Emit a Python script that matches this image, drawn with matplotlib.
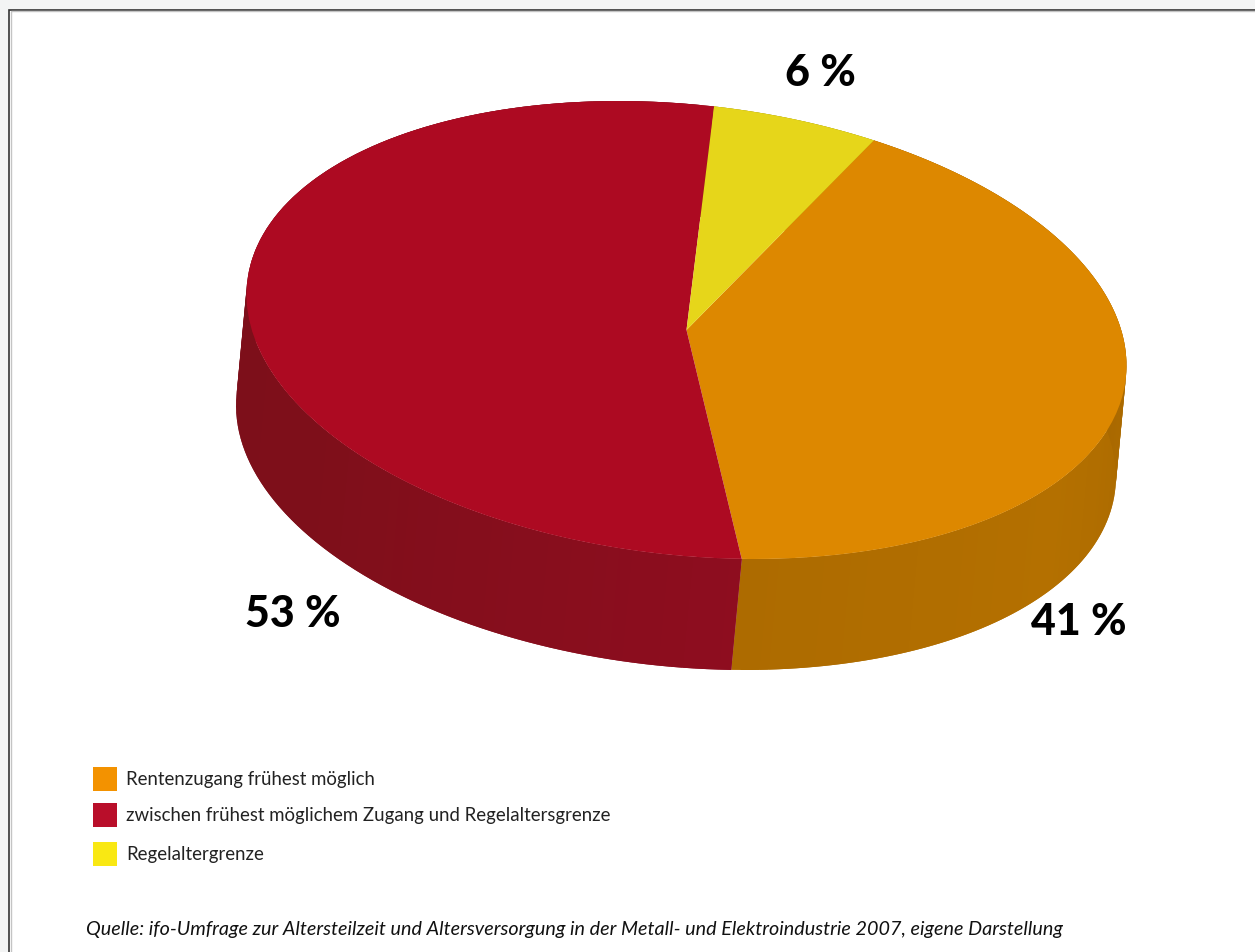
import numpy as np
import matplotlib
matplotlib.use("Agg")
import matplotlib.pyplot as plt
from matplotlib.colors import to_rgb
from matplotlib.patches import Polygon, Rectangle
from matplotlib.transforms import Affine2D

# Survey shares in percent
categories = ["Rentenzugang frühest möglich",
              "zwischen frühest möglichem Zugang und Regelaltersgrenze",
              "Regelaltergrenze"]
shares = [41, 53, 6]
share_labels = ["41 %", "53 %", "6 %"]
source_note = ("Quelle: ifo-Umfrage zur Altersteilzeit und Altersversorgung in der "
               "Metall- und Elektroindustrie 2007, eigene Darstellung")

top_colors = ["#dd8800", "#ad0a22", "#e6d61a"]
wall_colors = {0: ["#ad6b00", "#b47000", "#a86800", "#a86800"],
               1: ["#7c0f1a", "#7c0f1a", "#7e0f1a", "#8e0d1f"],
               2: ["#b0a414", "#b0a414"]}
swatch_colors = ["#f39200", "#b90e2a", "#f9e813"]

W, H = 1255, 952
fig = plt.figure(figsize=(W / 100, H / 100), dpi=100, facecolor="#f3f4f4")
ax = fig.add_axes([0, 0, 1, 1])

# Disc top: unit circle sheared and squashed into a tilted ellipse (y runs downward)
cx, cy = 686.5, 330.0
tilt = Affine2D.from_values(440, 37, 3, -226, cx, cy)
depth = np.array([-10.5, 111.0])

wedges, _ = ax.pie(shares, colors=top_colors, startangle=65.2, counterclock=False,
                   radius=1.0, center=(0, 0), frame=False,
                   wedgeprops={"linewidth": 0, "zorder": 4})
ax.set_aspect("auto")
ax.set_xlim(0, W)
ax.set_ylim(H, 0)
ax.axis("off")


def rim(angles):
    """Rim points of the disc top, in pixels, for angles in degrees."""
    rad = np.radians(angles)
    return tilt.transform(np.column_stack([np.cos(rad), np.sin(rad)]))


# White sheet with a dark border and a soft grey inner line along the top and left
ax.add_patch(Rectangle((9, 9.5), W, H, fc="white", ec="#333333", lw=1.2, zorder=0))
ax.add_patch(Rectangle((10.5, 11), W, H, fc="none", ec="#c4c4c4", lw=1.0, zorder=0.5))

# Disc wall: narrow overlapping strips following each wedge around the rim
for i, wedge in enumerate(wedges):
    wedge.set_transform(tilt + ax.transData)
    angles = np.linspace(wedge.theta1, wedge.theta2, 121)
    pts = rim(angles)
    shades = np.array([to_rgb(c) for c in wall_colors[i]])
    pos = np.linspace(0, 1, len(shades))
    for k in range(len(angles) - 1):
        frac = (k + 0.5) / (len(angles) - 1)
        col = [np.interp(frac, pos, shades[:, c]) for c in range(3)]
        end = min(k + 2, len(angles) - 1)
        quad = [pts[k], pts[end], pts[end] + depth, pts[k] + depth]
        ax.add_patch(Polygon(quad, closed=True, fc=col, ec="none", zorder=2 + i * 0.1))

# Percentage labels
label_pos = [(1079, 622), (293, 614), (820, 73)]
for text, (x, y) in zip(share_labels, label_pos):
    ax.text(x, y, text, family="Lato", weight="black", fontsize=31, color="black",
            ha="center", va="center", zorder=6)

# Legend
legend_y = [779, 815, 854]
for name, color, y in zip(categories, swatch_colors, legend_y):
    ax.add_patch(Rectangle((92.5, y - 12), 24, 24, fc=color, ec="none", zorder=5))
    ax.text(126, y + 0.5, name, family="Lato", fontsize=13.45, color="#222222",
            ha="left", va="center", zorder=6)

ax.text(86, 929, source_note, family="Lato", style="italic", fontsize=14.2,
        color="#111111", ha="left", va="center", zorder=6)

fig.savefig("out.png", dpi=100, facecolor=fig.get_facecolor())
